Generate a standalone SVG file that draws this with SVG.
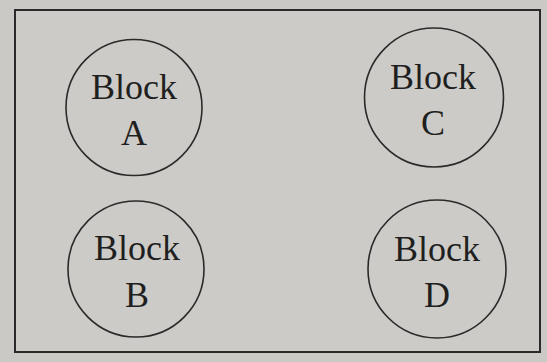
<svg xmlns="http://www.w3.org/2000/svg" width="547" height="362" viewBox="0 0 547 362">
<style>
.node circle{fill:none;stroke:#2a2a2a;stroke-width:1.6}
.node text{font-family:"Liberation Serif","DejaVu Serif",serif;font-size:36px;fill:#1f1f1f;text-anchor:middle}
</style>
<rect x="0" y="0" width="547" height="362" fill="#cbc9c5"/>
<rect x="15" y="10" width="525" height="342" fill="#cdcbc7" stroke="#2a2a2a" stroke-width="2"/>
<g id="connectors"></g>
<g id="blockA" class="node">
<circle cx="134" cy="107.5" r="68"/>
<text x="134" y="99">Block</text>
<text x="134" y="145">A</text>
</g>
<g id="blockC" class="node">
<circle cx="434" cy="97.5" r="69.5"/>
<text x="433" y="89">Block</text>
<text x="433" y="135">C</text>
</g>
<g id="blockB" class="node">
<circle cx="136" cy="269" r="68"/>
<text x="137" y="260">Block</text>
<text x="137" y="307">B</text>
</g>
<g id="blockD" class="node">
<circle cx="437" cy="269" r="69"/>
<text x="437" y="261">Block</text>
<text x="437" y="307">D</text>
</g>
</svg>
